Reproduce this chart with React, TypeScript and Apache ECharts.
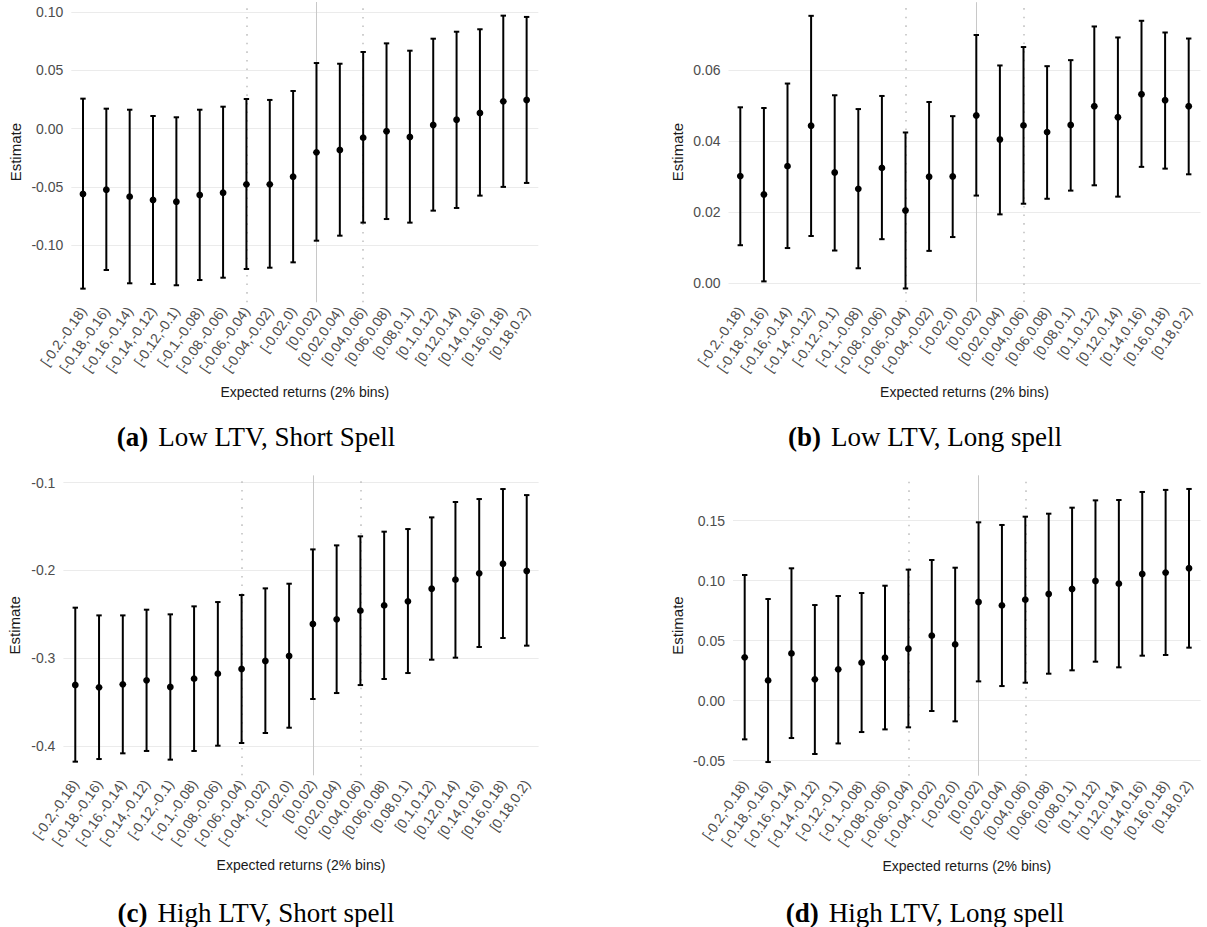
import React, { useEffect, useRef } from "react";
import * as echarts from "echarts";

// Expected-return bins (2% wide)
const bins = [
  "[-0.2,-0.18)", "[-0.18,-0.16)", "[-0.16,-0.14)", "[-0.14,-0.12)", "[-0.12,-0.1)",
  "[-0.1,-0.08)", "[-0.08,-0.06)", "[-0.06,-0.04)", "[-0.04,-0.02)", "[-0.02,0)",
  "[0,0.02)", "[0.02,0.04)", "[0.04,0.06)", "[0.06,0.08)", "[0.08,0.1)",
  "[0.1,0.12)", "[0.12,0.14)", "[0.14,0.16)", "[0.16,0.18)", "[0.18,0.2)",
];

// Reference lines
const dottedBins = ["[-0.06,-0.04)", "[0.04,0.06)"];
const solidBin = "[0,0.02)";

// (a) Low LTV, Short Spell
const estA = [-0.0561, -0.0524, -0.0584, -0.0612, -0.0627, -0.057, -0.055, -0.0478, -0.0478, -0.0413, -0.0203, -0.0183, -0.0077, -0.0022, -0.0071, 0.0032, 0.0077, 0.0135, 0.0235, 0.0247];
const hiA = [0.0258, 0.0172, 0.0163, 0.0109, 0.0098, 0.0163, 0.0189, 0.0255, 0.0247, 0.0324, 0.0564, 0.0558, 0.0659, 0.0733, 0.067, 0.0773, 0.0833, 0.0854, 0.0971, 0.096];
const loA = [-0.1374, -0.1214, -0.1328, -0.1334, -0.1345, -0.13, -0.128, -0.1205, -0.1194, -0.1148, -0.0962, -0.0919, -0.0807, -0.0776, -0.0807, -0.0704, -0.0681, -0.0575, -0.05, -0.0466];
const ticksA = [-0.1, -0.05, 0, 0.05, 0.1];

// (b) Low LTV, Long spell
const estB = [0.0302, 0.025, 0.033, 0.0444, 0.0312, 0.0266, 0.0325, 0.0205, 0.03, 0.0301, 0.0473, 0.0405, 0.0445, 0.0426, 0.0446, 0.0499, 0.0468, 0.0533, 0.0516, 0.0499];
const hiB = [0.0496, 0.0494, 0.0563, 0.0754, 0.053, 0.0491, 0.0528, 0.0425, 0.0511, 0.0471, 0.07, 0.0614, 0.0666, 0.0612, 0.0629, 0.0724, 0.0693, 0.074, 0.0707, 0.069];
const loB = [0.0107, 0.0005, 0.0099, 0.0133, 0.0092, 0.0042, 0.0124, -0.0015, 0.0091, 0.013, 0.0247, 0.0194, 0.0224, 0.0238, 0.0261, 0.0276, 0.0244, 0.0328, 0.0323, 0.0307];
const ticksB = [0, 0.02, 0.04, 0.06];

// (c) High LTV, Short spell
const estC = [-0.3305, -0.3332, -0.3298, -0.3252, -0.3328, -0.3233, -0.3176, -0.3123, -0.3032, -0.2975, -0.261, -0.2557, -0.2458, -0.2398, -0.2352, -0.2208, -0.2105, -0.2033, -0.1923, -0.2006];
const hiC = [-0.2424, -0.2512, -0.2512, -0.2447, -0.25, -0.2409, -0.236, -0.228, -0.2204, -0.2151, -0.176, -0.1714, -0.1611, -0.1558, -0.1528, -0.1395, -0.122, -0.1186, -0.1072, -0.1141];
const loC = [-0.4179, -0.4149, -0.4084, -0.4057, -0.4156, -0.4057, -0.3997, -0.3966, -0.3852, -0.3792, -0.3465, -0.3397, -0.3306, -0.3237, -0.3169, -0.3017, -0.2994, -0.2872, -0.277, -0.2857];
const ticksC = [-0.4, -0.3, -0.2, -0.1];

// (d) High LTV, Long spell
const estD = [0.0361, 0.0169, 0.0394, 0.0178, 0.0261, 0.0317, 0.0358, 0.0433, 0.0542, 0.0469, 0.0822, 0.0794, 0.0842, 0.0889, 0.0931, 0.0997, 0.0975, 0.1056, 0.1067, 0.1103];
const hiD = [0.1047, 0.0847, 0.1103, 0.0797, 0.0872, 0.0897, 0.0958, 0.1092, 0.1172, 0.1108, 0.1486, 0.1464, 0.1533, 0.1558, 0.1608, 0.1669, 0.1672, 0.1739, 0.1756, 0.1764];
const loD = [-0.0322, -0.0511, -0.0311, -0.0444, -0.0356, -0.0261, -0.0239, -0.0222, -0.0086, -0.0172, 0.0161, 0.0122, 0.015, 0.0225, 0.0253, 0.0325, 0.0278, 0.0375, 0.0381, 0.0442];
const ticksD = [-0.05, 0, 0.05, 0.1, 0.15];

const xTitle = "Expected returns (2% bins)";
const yTitle = "Estimate";

const panels = [
  { tag: "(a)", caption: "Low LTV, Short Spell", est: estA, lo: loA, hi: hiA, ticks: ticksA, digits: 2,
    grid: { left: 71.3, top: 2, width: 467, height: 300.3 }, nameGap: 48, capX: 256, capY: 437 },
  { tag: "(b)", caption: "Low LTV, Long spell", est: estB, lo: loB, hi: hiB, ticks: ticksB, digits: 2,
    grid: { left: 728.5, top: 2.2, width: 472, height: 299.9 }, nameGap: 44, capX: 925, capY: 437 },
  { tag: "(c)", caption: "High LTV, Short spell", est: estC, lo: loC, hi: hiC, ticks: ticksC, digits: 1,
    grid: { left: 63.4, top: 475.4, width: 475.2, height: 299.9 }, nameGap: 41, capX: 256, capY: 913 },
  { tag: "(d)", caption: "High LTV, Long spell", est: estD, lo: loD, hi: hiD, ticks: ticksD, digits: 2,
    grid: { left: 733, top: 475.3, width: 467.7, height: 300.4 }, nameGap: 48, capX: 925, capY: 913 },
];

const FONT = "'Liberation Sans', Arial, Helvetica, sans-serif";
const SERIF = "'Liberation Serif', 'Times New Roman', serif";

function buildOption() {
  const grids: any[] = [];
  const xAxes: any[] = [];
  const yAxes: any[] = [];
  const series: any[] = [];
  const graphics: any[] = [];

  panels.forEach((p, i) => {
    const lowAll = Math.min(...p.lo);
    const highAll = Math.max(...p.hi);
    const pad = (highAll - lowAll) * 0.05;
    const yMin = lowAll - pad;
    const yMax = highAll + pad;

    grids.push({ ...p.grid, containLabel: false });

    xAxes.push({
      type: "category",
      gridIndex: i,
      data: bins,
      boundaryGap: true,
      axisLine: { show: false },
      axisTick: { show: false },
      splitLine: { show: false },
      axisLabel: {
        interval: 0,
        rotate: 55,
        margin: 6,
        color: "#4d4d4d",
        fontSize: 14,
        fontFamily: FONT,
      },
      name: xTitle,
      nameLocation: "middle",
      nameGap: 83,
      nameTextStyle: { color: "#1a1a1a", fontSize: 14, fontFamily: FONT },
    });

    yAxes.push({
      type: "value",
      gridIndex: i,
      min: yMin,
      max: yMax,
      axisLine: { show: false },
      axisTick: { show: false },
      splitLine: { show: false },
      axisLabel: {
        customValues: p.ticks,
        margin: 8,
        color: "#4d4d4d",
        fontSize: 14,
        fontFamily: FONT,
        formatter: (v: number) => {
          const hit = p.ticks.some((t) => Math.abs(t - v) < 1e-9);
          return hit ? v.toFixed(p.digits) : "";
        },
      },
      name: yTitle,
      nameLocation: "middle",
      nameGap: p.nameGap,
      nameTextStyle: { color: "#1a1a1a", fontSize: 15, fontFamily: FONT },
    });

    // Horizontal grid lines and vertical reference lines, kept beneath the bars
    series.push({
      type: "line",
      xAxisIndex: i,
      yAxisIndex: i,
      data: [],
      z: 1,
      silent: true,
      markLine: {
        z: 1,
        silent: true,
        symbol: "none",
        label: { show: false },
        emphasis: { disabled: true },
        data: [
          ...p.ticks.map((t) => ({ yAxis: t, lineStyle: { color: "#ebebeb", width: 1.2, type: "solid" } })),
          { xAxis: solidBin, lineStyle: { color: "#c8c8c8", width: 1, type: "solid" } },
          ...dottedBins.map((b) => ({
            xAxis: b,
            lineStyle: { color: "#c4c4c4", width: 1.6, type: [1.6, 7], cap: "butt" },
          })),
        ],
      },
    });

    // Error bars with point estimates
    const rows = bins.map((_, k) => [k, p.lo[k], p.hi[k], p.est[k]]);
    series.push({
      type: "custom",
      xAxisIndex: i,
      yAxisIndex: i,
      z: 10,
      silent: true,
      data: rows,
      encode: { x: 0, y: [1, 2, 3] },
      renderItem: (params: any, api: any) => {
        const x = api.value(0);
        const top = api.coord([x, api.value(2)]);
        const bot = api.coord([x, api.value(1)]);
        const mid = api.coord([x, api.value(3)]);
        const cap = 2.7;
        const stroke = { stroke: "#000", lineWidth: 2 };
        return {
          type: "group",
          children: [
            { type: "line", shape: { x1: top[0], y1: top[1], x2: bot[0], y2: bot[1] }, style: stroke },
            { type: "line", shape: { x1: top[0] - cap, y1: top[1], x2: top[0] + cap, y2: top[1] }, style: stroke },
            { type: "line", shape: { x1: bot[0] - cap, y1: bot[1], x2: bot[0] + cap, y2: bot[1] }, style: stroke },
            { type: "circle", shape: { cx: mid[0], cy: mid[1], r: 3.4 }, style: { fill: "#000" } },
          ],
        };
      },
    });

    // Sub-figure caption: bold tag followed by the panel description
    graphics.push({
      type: "text",
      x: p.capX,
      y: p.capY,
      style: {
        text: `{b|${p.tag}}{r|${p.caption}}`,
        align: "center",
        verticalAlign: "middle",
        rich: {
          b: { fontFamily: SERIF, fontSize: 27, fontWeight: "bold", fill: "#000", padding: [0, 10, 0, 0] },
          r: { fontFamily: SERIF, fontSize: 27, fill: "#000" },
        },
      },
    });
  });

  return {
    animation: false,
    backgroundColor: "#ffffff",
    grid: grids,
    xAxis: xAxes,
    yAxis: yAxes,
    series,
    graphic: graphics,
  };
}

export default function App() {
  const ref = useRef<HTMLDivElement>(null);

  useEffect(() => {
    if (!ref.current) return;
    const chart = echarts.init(ref.current, undefined, { renderer: "svg" });
    chart.setOption(buildOption() as any);
    return () => chart.dispose();
  }, []);

  return (
    <div
      ref={ref}
      style={{ position: "absolute", left: 0, top: 0, width: 1207, height: 927, background: "#fff" }}
    />
  );
}
